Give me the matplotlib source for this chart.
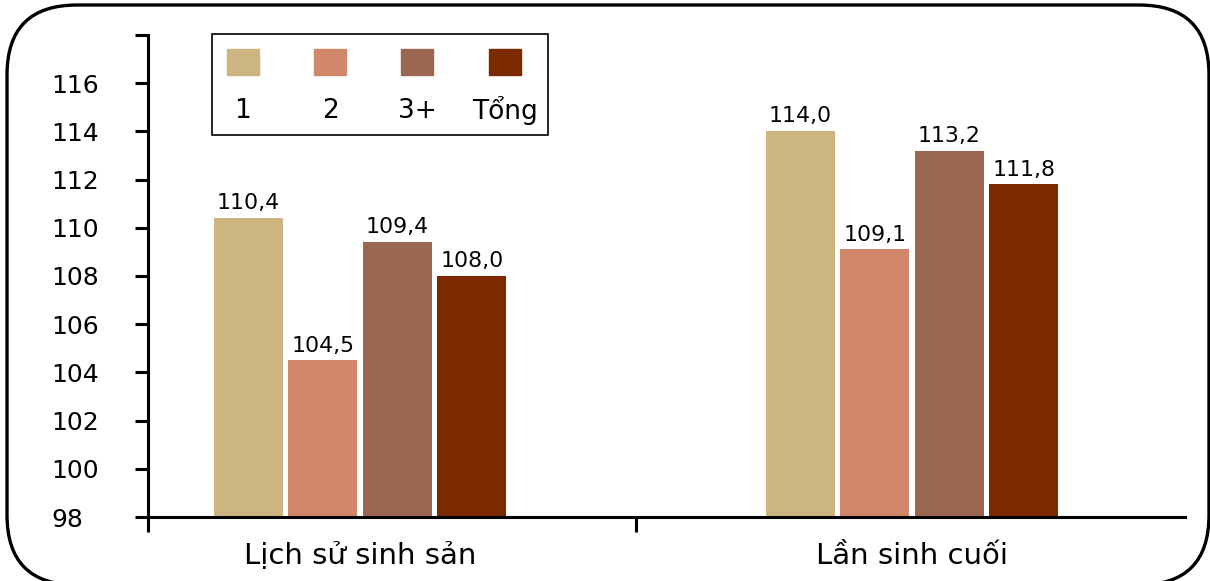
import matplotlib
matplotlib.use("Agg")
import matplotlib.pyplot as plt
from matplotlib.patches import FancyBboxPatch, Rectangle
import numpy as np

plt.rcParams['font.family'] = ['DejaVu Sans']

categories = ["Lịch sử sinh sản", "Lần sinh cuối"]
series = ["1", "2", "3+", "Tổng"]
values_1 = [110.4, 114.0]
values_2 = [104.5, 109.1]
values_3 = [109.4, 113.2]
values_tong = [108.0, 111.8]
all_values = [values_1, values_2, values_3, values_tong]
colors = ["#CDB582", "#D0876A", "#9C6750", "#7B2A00"]

fig = plt.figure(figsize=(12.1, 5.81), dpi=100)
ax = fig.add_axes([0.1223, 0.110, 0.8567, 0.830])

x = np.arange(len(categories))
width = 0.125
step = 0.135
for i, (vals, col) in enumerate(zip(all_values, colors)):
    pos = x + (i - 1.5) * step
    bars = ax.bar(pos, [v - 98 for v in vals], width, bottom=98, color=col)
    for b, v in zip(bars, vals):
        ax.text(b.get_x() + b.get_width() / 2, v + 0.2, f"{v:.1f}".replace(".", ","),
                ha="center", va="bottom", fontsize=15.8)

ax.set_ylim(98, 118)
ax.set_xlim(-0.384, 1.494)
ax.set_yticks(np.arange(98, 119, 2))
ax.set_yticklabels([str(t) if t < 118 else "" for t in range(98, 119, 2)],
                   fontsize=18, ha="left")
ax.tick_params(axis="y", length=9.4, width=2.2, pad=60)

ax.set_xticks([-0.384, 0.5])
ax.set_xticklabels(["", ""])
ax.tick_params(axis="x", which="major", length=11, width=2.2)
ax.set_xticks(x, minor=True)
ax.set_xticklabels(categories, minor=True, fontsize=21)
ax.tick_params(axis="x", which="minor", length=0, pad=18)

for s in ["top", "right"]:
    ax.spines[s].set_visible(False)
ax.spines["left"].set_linewidth(2.2)
ax.spines["bottom"].set_linewidth(2.2)

# legend: patches above labels
ax.add_patch(Rectangle((0.0617, 0.7925), 0.324, 0.2095, transform=ax.transAxes,
                       fill=False, edgecolor="black", lw=1.2, clip_on=False))
for i, (name, col) in enumerate(zip(series, colors)):
    cx = 0.0915 + i * 0.0842
    ax.add_patch(Rectangle((cx - 0.0154, 0.916), 0.0308, 0.054, transform=ax.transAxes,
                           color=col, clip_on=False))
    ax.text(cx, 0.843, name, transform=ax.transAxes, ha="center", va="center", fontsize=19)

# rounded frame around the figure (pixel coords, from bottom)
frame = FancyBboxPatch((7, -4), 1202, 580, boxstyle="round,pad=0,rounding_size=70",
                       transform=None, fill=False, edgecolor="black", lw=2.4)
fig.patches.append(frame)

fig.savefig("out.png", dpi=100)
